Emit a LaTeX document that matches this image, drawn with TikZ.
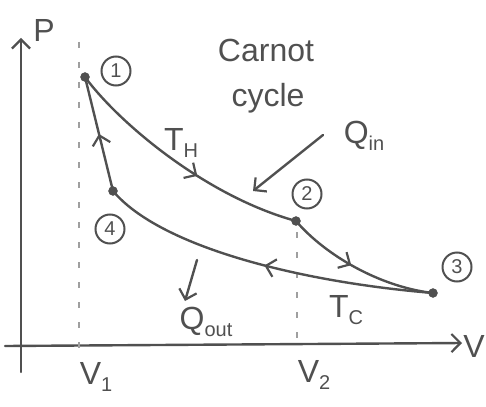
\documentclass[tikz,border=0pt]{standalone}
\usepackage{fontspec}
\setmainfont{Liberation Sans}
\usetikzlibrary{arrows.meta,decorations.markings}
\definecolor{ink}{HTML}{505050}
\newcommand\mysub[1]{\raisebox{-0.4ex}{\fontsize{20}{20}\selectfont #1}}
\tikzset{
  pen/.style={draw=ink, line width=2.4pt, line cap=round, line join=round},
  tip/.style={-{Straight Barb[length=9pt,width=18pt,line width=2.2pt]}},
  dot/.style={circle, fill=ink, draw=ink, inner sep=0pt, minimum size=9pt},
  num/.style={circle, draw=ink, line width=2pt, text=ink, inner sep=0pt, minimum size=29pt, font=\fontsize{20}{20}\selectfont},
  lbl/.style={text=ink, inner sep=0pt, font=\fontsize{32}{32}\selectfont},
  guide/.style={draw=ink!55, line width=1.6pt, dash pattern=on 6pt off 14pt},
  midarrow/.style={postaction={decorate}, decoration={markings, mark=at position #1 with {\arrow{Straight Barb[length=9pt,width=18pt,line width=2.2pt]}}}}
}
\begin{document}
\begin{tikzpicture}[x=1pt,y=-1pt]
\useasboundingbox (0,0) rectangle (486,406);
% axes
\coordinate (yb) at (21,372);
\coordinate (yt) at (21,38);
\coordinate (xl) at (5,346);
\coordinate (xr) at (462,343);
\draw[pen,tip] (yb) -- (yt);
\draw[pen,tip] (xl) -- (xr);
\node[lbl] (P) at (44,30) {P};
\node[lbl] (V) at (474,346) {V};
\node[lbl] (V1) at (96,377) {V\mysub{1}};
\node[lbl] (V2) at (314,375) {V\mysub{2}};
% guides
\coordinate (g1t) at (79,42);
\coordinate (g1b) at (79,350);
\coordinate (g2t) at (297,232);
\coordinate (g2b) at (297,350);
\draw[guide] (g1t) -- (g1b);
\draw[guide] (g2t) -- (g2b);
% states
\node[dot] (p1) at (85,77) {};
\node[dot] (p2) at (296,221) {};
\node[dot] (p3) at (433,293) {};
\node[dot] (p4) at (113,191) {};
\node[num] (n1) at (116,71) {1};
\node[num] (n2) at (307,194) {2};
\node[num] (n3) at (457,267) {3};
\node[num] (n4) at (110,229) {4};
% processes
\draw[pen,midarrow=0.58] (p1.center) .. controls (118,122) and (205,196) .. (p2.center);
\draw[pen,midarrow=0.45] (p2.center) .. controls (325,255) and (380,287) .. (p3.center);
\draw[pen,midarrow=0.5] (p3.center) .. controls (300,282) and (160,247) .. (p4.center);
\draw[pen,midarrow=0.5] (p4.center) -- (p1.center);
% labels
\node[lbl] (cap) at (266,50) {Carnot};
\node[lbl] (cap2) at (268,98) {cycle};
\node[lbl] (TH) at (181,143) {T\mysub{H}};
\node[lbl] (TC) at (346,310) {T\mysub{C}};
\node[lbl] (Qin) at (364,136) {Q\mysub{in}};
\node[lbl] (Qout) at (206,322) {Q\mysub{out}};
% heat arrows
\coordinate (qa) at (323,135);
\coordinate (qb) at (253,191);
\draw[pen,tip] (qa) -- (qb);
\coordinate (qc) at (197,260);
\coordinate (qd) at (185,301);
\draw[pen,tip] (qc) -- (qd);
\end{tikzpicture}
\end{document}
